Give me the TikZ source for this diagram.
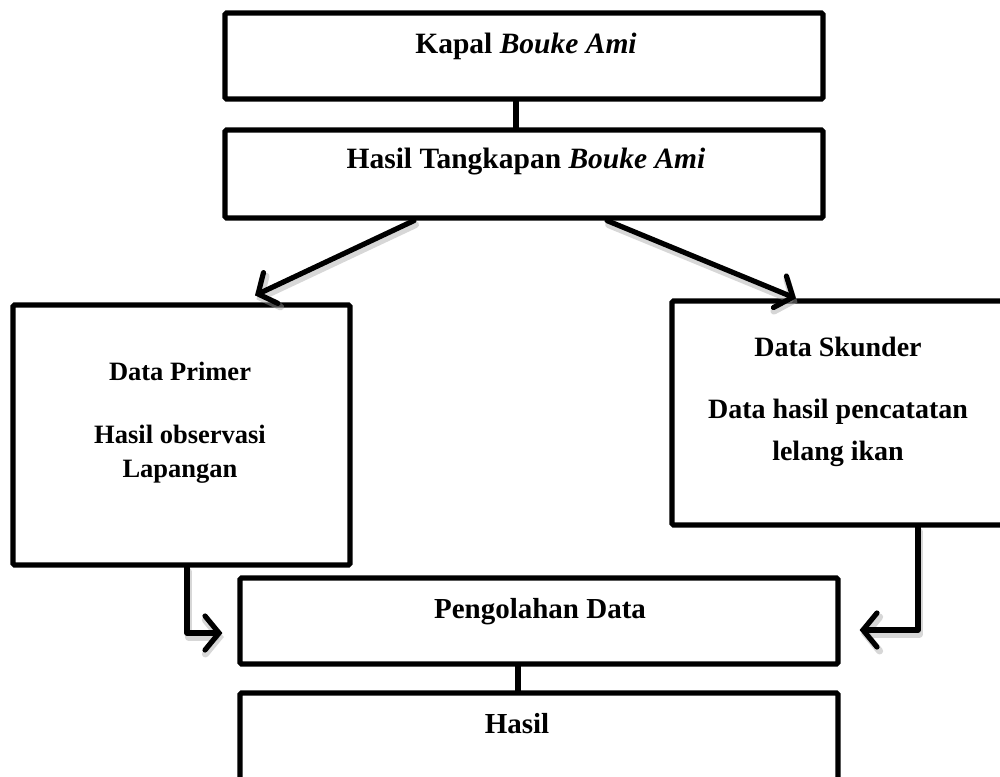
\documentclass[tikz,border=0pt]{standalone}
\usepackage{fontspec}
\setmainfont{Liberation Serif}
\usetikzlibrary{arrows.meta}
\begin{document}
\begin{tikzpicture}[x=1pt,y=-1pt,
  box/.style={draw=black,line width=5.2pt,rounded corners=1.5pt,inner sep=0pt,fill=white},
  txt/.style={anchor=base,inner sep=0pt,font=\bfseries},
  link/.style={draw=black,line width=5.2pt,line cap=round},
  arr/.style={draw=black,line width=5.2pt,line cap=round,line join=round,
    -{Straight Barb[length=14pt,width=34pt,line cap=round]}},
  shadowline/.style={draw=black!35,opacity=0.45,line width=7pt,line cap=round,line join=round,
    -{Straight Barb[length=14pt,width=34pt,line cap=round]}}]
\useasboundingbox (0,0) rectangle (1000,776);
\clip (0,0) rectangle (1000,776);
% boxes
\node[box,minimum width=598pt,minimum height=86pt] (b1) at (524,56) {};
\node[box,minimum width=598pt,minimum height=88pt] (b2) at (524,174) {};
\node[box,minimum width=337pt,minimum height=260pt] (b3) at (181.5,435) {};
\node[box,minimum width=338pt,minimum height=224pt] (b4) at (841,413) {};
\node[box,minimum width=598pt,minimum height=86pt] (b5) at (539,621) {};
\node[box,minimum width=598pt,minimum height=107pt] (b6) at (539,746.5) {};
% texts
\node[txt,font=\bfseries\fontsize{29.5}{34}\selectfont] (t1) at (526,53) {Kapal \textit{Bouke Ami}};
\node[txt,font=\bfseries\fontsize{29.5}{34}\selectfont] (t2) at (526,168) {Hasil Tangkapan \textit{Bouke Ami}};
\node[txt,font=\bfseries\fontsize{26.5}{30}\selectfont] (t3a) at (180,380) {Data Primer};
\node[txt,font=\bfseries\fontsize{26.5}{30}\selectfont] (t3b) at (180,443) {Hasil observasi};
\node[txt,font=\bfseries\fontsize{26.5}{30}\selectfont] (t3c) at (180,477) {Lapangan};
\node[txt,font=\bfseries\fontsize{28}{32}\selectfont] (t4a) at (838,356) {Data Skunder};
\node[txt,font=\bfseries\fontsize{28}{32}\selectfont] (t4b) at (838,418) {Data hasil pencatatan};
\node[txt,font=\bfseries\fontsize{28}{32}\selectfont] (t4c) at (838,460) {lelang ikan};
\node[txt,font=\bfseries\fontsize{29}{33}\selectfont] (t5) at (540,618) {Pengolahan Data};
\node[txt,font=\bfseries\fontsize{29}{33}\selectfont] (t6) at (517,733) {Hasil};
% soft shadows of the arrows
\begin{scope}[transform canvas={shift={(1.5pt,-4pt)}}]
\draw[shadowline] ([xshift=-110pt]b2.south) -- ([xshift=73.5pt,yshift=7pt]b3.north);
\draw[shadowline] ([xshift=83pt]b2.south) -- ([xshift=-45pt]b4.north);
\draw[shadowline] ([xshift=5.5pt]b3.south) |- ([xshift=-15pt,yshift=-12pt]b5.west);
\draw[shadowline] ([xshift=77pt]b4.south) |- ([xshift=19pt,yshift=-9pt]b5.east);
\end{scope}
% connectors
\draw[link] ([xshift=-8pt]b1.south) -- ([xshift=-8pt]b2.north);
\draw[arr] ([xshift=-110pt]b2.south) -- ([xshift=73.5pt,yshift=7pt]b3.north);
\draw[arr] ([xshift=83pt]b2.south) -- ([xshift=-45pt]b4.north);
\draw[arr] ([xshift=5.5pt]b3.south) |- ([xshift=-15pt,yshift=-12pt]b5.west);
\draw[arr] ([xshift=77pt]b4.south) |- ([xshift=19pt,yshift=-9pt]b5.east);
\draw[link] ([xshift=-21pt]b5.south) -- ([xshift=-21pt]b6.north);
\end{tikzpicture}
\end{document}
